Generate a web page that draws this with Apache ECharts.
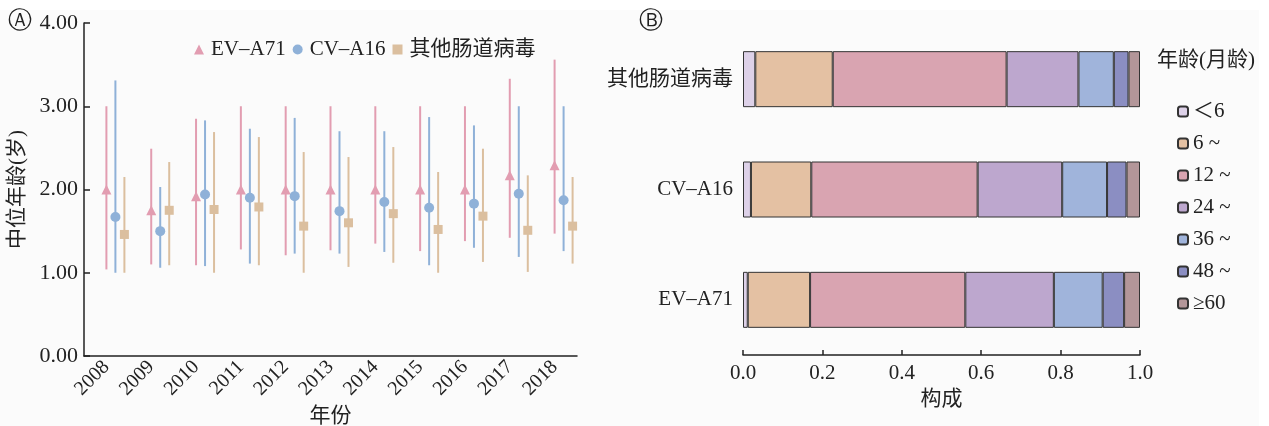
<!DOCTYPE html>
<html><head><meta charset="utf-8">
<script src="https://cdn.jsdelivr.net/npm/echarts@6/dist/echarts.min.js"></script>
<style>html,body{margin:0;padding:0;background:#fff}#c{width:1269px;height:426px}</style>
</head><body><div id="c"></div>
<script>
const years = ['2008','2009','2010','2011','2012','2013','2014','2015','2016','2017','2018'];
// EV-A71: median, lower, upper
const evMed = [2.00,1.75,1.92,2.00,2.00,2.00,2.00,2.00,2.00,2.17,2.29];
const evLow = [1.04,1.10,1.09,1.28,1.21,1.27,1.35,1.26,1.38,1.42,1.47];
const evHigh = [3.00,2.49,2.85,3.00,3.00,3.00,3.00,3.00,3.00,3.33,3.56];
// CV-A16
const cvMed = [1.67,1.50,1.94,1.90,1.92,1.74,1.85,1.78,1.83,1.95,1.87];
const cvLow = [1.00,1.06,1.08,1.11,1.23,1.23,1.25,1.09,1.30,1.19,1.26];
const cvHigh = [3.31,2.03,2.83,2.73,2.86,2.70,2.70,2.87,2.77,3.00,3.00];
// Other enteroviruses
const otMed = [1.46,1.75,1.76,1.79,1.56,1.60,1.71,1.52,1.68,1.51,1.56];
const otLow = [1.00,1.09,1.00,1.09,1.00,1.07,1.12,1.00,1.13,1.01,1.11];
const otHigh = [2.15,2.33,2.69,2.63,2.45,2.39,2.51,2.21,2.49,2.17,2.15];
const yTicks = [0,1,2,3,4];

const viruses = ['EV–A71','CV–A16','其他肠道病毒'];
const ageGroups = ['＜6','6 ~','12 ~','24 ~','36 ~','48 ~','≥60'];
// composition per age group: [EV-A71, CV-A16, other]
const comp = [
  [0.012,0.020,0.031],
  [0.157,0.152,0.195],
  [0.391,0.419,0.438],
  [0.223,0.213,0.181],
  [0.123,0.113,0.089],
  [0.054,0.049,0.037],
  [0.040,0.034,0.029]
];

const FF = "'Liberation Serif','Noto Sans CJK SC',serif";
const TXT = '#222';
const AX = '#222';
const FS = 21;
const cEV = '#e29db1', cCV = '#8fb1d8', cOT = '#dbbf9f';
const ageColors = ['#ddd1e8','#e4c1a3','#d9a4b1','#bda7ce','#a0b4db','#8b8ec2','#b39699'];

function errSeries(name, low, high, color, off) {
  return {
    type: 'custom', name: name + '_err', xAxisIndex: 0, yAxisIndex: 0, silent: true, z: 2,
    data: years.map((y, i) => [i, low[i], high[i]]),
    renderItem: function (params, api) {
      const a = api.coord([api.value(0), api.value(1)]);
      const b = api.coord([api.value(0), api.value(2)]);
      return { type: 'line', shape: { x1: a[0] + off, y1: a[1], x2: b[0] + off, y2: b[1] },
        style: { stroke: color, lineWidth: 2 } };
    }
  };
}
function ptSeries(name, med, color, sym, size, off) {
  return {
    type: 'scatter', name: name, xAxisIndex: 0, yAxisIndex: 0, z: 3,
    symbol: sym, symbolSize: size, symbolOffset: [off, 0],
    itemStyle: { color: color, opacity: 1 },
    data: med
  };
}

const series = [
  errSeries('EV–A71', evLow, evHigh, cEV, 0),
  errSeries('CV–A16', cvLow, cvHigh, cCV, 9),
  errSeries('其他肠道病毒', otLow, otHigh, cOT, 18),
  ptSeries('EV–A71', evMed, cEV, 'triangle', 10, 0),
  ptSeries('CV–A16', cvMed, cCV, 'circle', 10, 9),
  ptSeries('其他肠道病毒', otMed, cOT, 'rect', 9, 18)
];
ageGroups.forEach((g, k) => {
  series.push({
    type: 'bar', name: g, xAxisIndex: 1, yAxisIndex: 1, stack: 'total', barWidth: 56,
    itemStyle: { color: ageColors[k], borderColor: '#333', borderWidth: 1 },
    data: comp[k]
  });
});

const chart = echarts.init(document.getElementById('c'), null, { renderer: 'canvas' });
chart.setOption({
  backgroundColor: '#fbfbfb',
  animation: false,
  textStyle: { fontFamily: FF, color: TXT },
  graphic: [
    { type: 'rect', shape: { x: 0, y: 0, width: 1269, height: 10 }, style: { fill: '#fff' }, z: -1 },
    { type: 'rect', shape: { x: 1259, y: 0, width: 10, height: 426 }, style: { fill: '#fff' }, z: -1 },
    { type: 'text', left: 8, top: 10, style: { text: 'Ⓐ', font: "24px 'DejaVu Serif'", fill: TXT } },
    { type: 'text', left: 639, top: 10, style: { text: 'Ⓑ', font: "24px 'DejaVu Serif'", fill: TXT } },
    { type: 'text', left: 1157, top: 50, style: { text: '年龄(月龄)', font: FS + "px " + FF, fill: TXT } }
  ],
  legend: [
    {
      data: [
        { name: 'EV–A71', icon: 'triangle' },
        { name: 'CV–A16', icon: 'circle' },
        { name: '其他肠道病毒', icon: 'rect' }
      ],
      left: 189, top: 34, itemWidth: 10, itemHeight: 10, itemGap: 7,
      textStyle: { fontSize: FS, fontFamily: FF, color: TXT, padding: [0, 0, 0, 2] }
    },
    {
      data: ageGroups, orient: 'vertical', left: 1172, top: 96,
      itemWidth: 10, itemHeight: 10, itemGap: 11,
      textStyle: { fontSize: FS, fontFamily: FF, color: TXT }
    }
  ],
  grid: [
    { left: 84, top: 23, width: 493, height: 333, outerBoundsMode: 'none', containLabel: false },
    { left: 743, top: 24, width: 397, height: 331, outerBoundsMode: 'none', containLabel: false }
  ],
  xAxis: [
    {
      type: 'category', gridIndex: 0, data: years, boundaryGap: true,
      name: '年份', nameLocation: 'middle', nameGap: 50,
      nameTextStyle: { fontSize: FS, color: TXT, fontFamily: FF },
      axisLine: { lineStyle: { color: AX, width: 1.5 } },
      axisTick: { alignWithLabel: true, inside: true, length: 6, lineStyle: { color: AX, width: 1.5 } },
      axisLabel: { rotate: 45, fontSize: 20, color: TXT, fontFamily: FF, margin: 8 },
      splitLine: { show: false }
    },
    {
      type: 'value', gridIndex: 1, min: 0, max: 1, interval: 0.2,
      name: '构成', nameLocation: 'middle', nameGap: 33,
      nameTextStyle: { fontSize: FS, color: TXT, fontFamily: FF },
      axisLine: { show: true, lineStyle: { color: AX, width: 1.5 } },
      axisTick: { show: true, inside: true, length: 5, lineStyle: { color: AX, width: 1.5 } },
      axisLabel: { fontSize: FS, color: TXT, fontFamily: FF, margin: 8, formatter: v => v.toFixed(1) },
      splitLine: { show: false }
    }
  ],
  yAxis: [
    {
      type: 'value', gridIndex: 0, min: yTicks[0], max: yTicks[yTicks.length - 1], interval: 1,
      name: '中位年龄(岁)', nameLocation: 'middle', nameGap: 56, nameRotate: 90,
      nameTextStyle: { fontSize: FS, color: TXT, fontFamily: FF },
      axisLine: { show: true, lineStyle: { color: AX, width: 1.5 } },
      axisTick: { show: true, inside: true, length: 6, lineStyle: { color: AX, width: 1.5 } },
      axisLabel: { fontSize: 22, color: TXT, fontFamily: FF, margin: 6, formatter: v => v.toFixed(2) },
      splitLine: { show: false }
    },
    {
      type: 'category', gridIndex: 1, data: viruses,
      axisLine: { show: false }, axisTick: { show: false },
      axisLabel: { fontSize: FS, color: TXT, fontFamily: FF, margin: 10 }
    }
  ],
  series: series
});
</script></body></html>
